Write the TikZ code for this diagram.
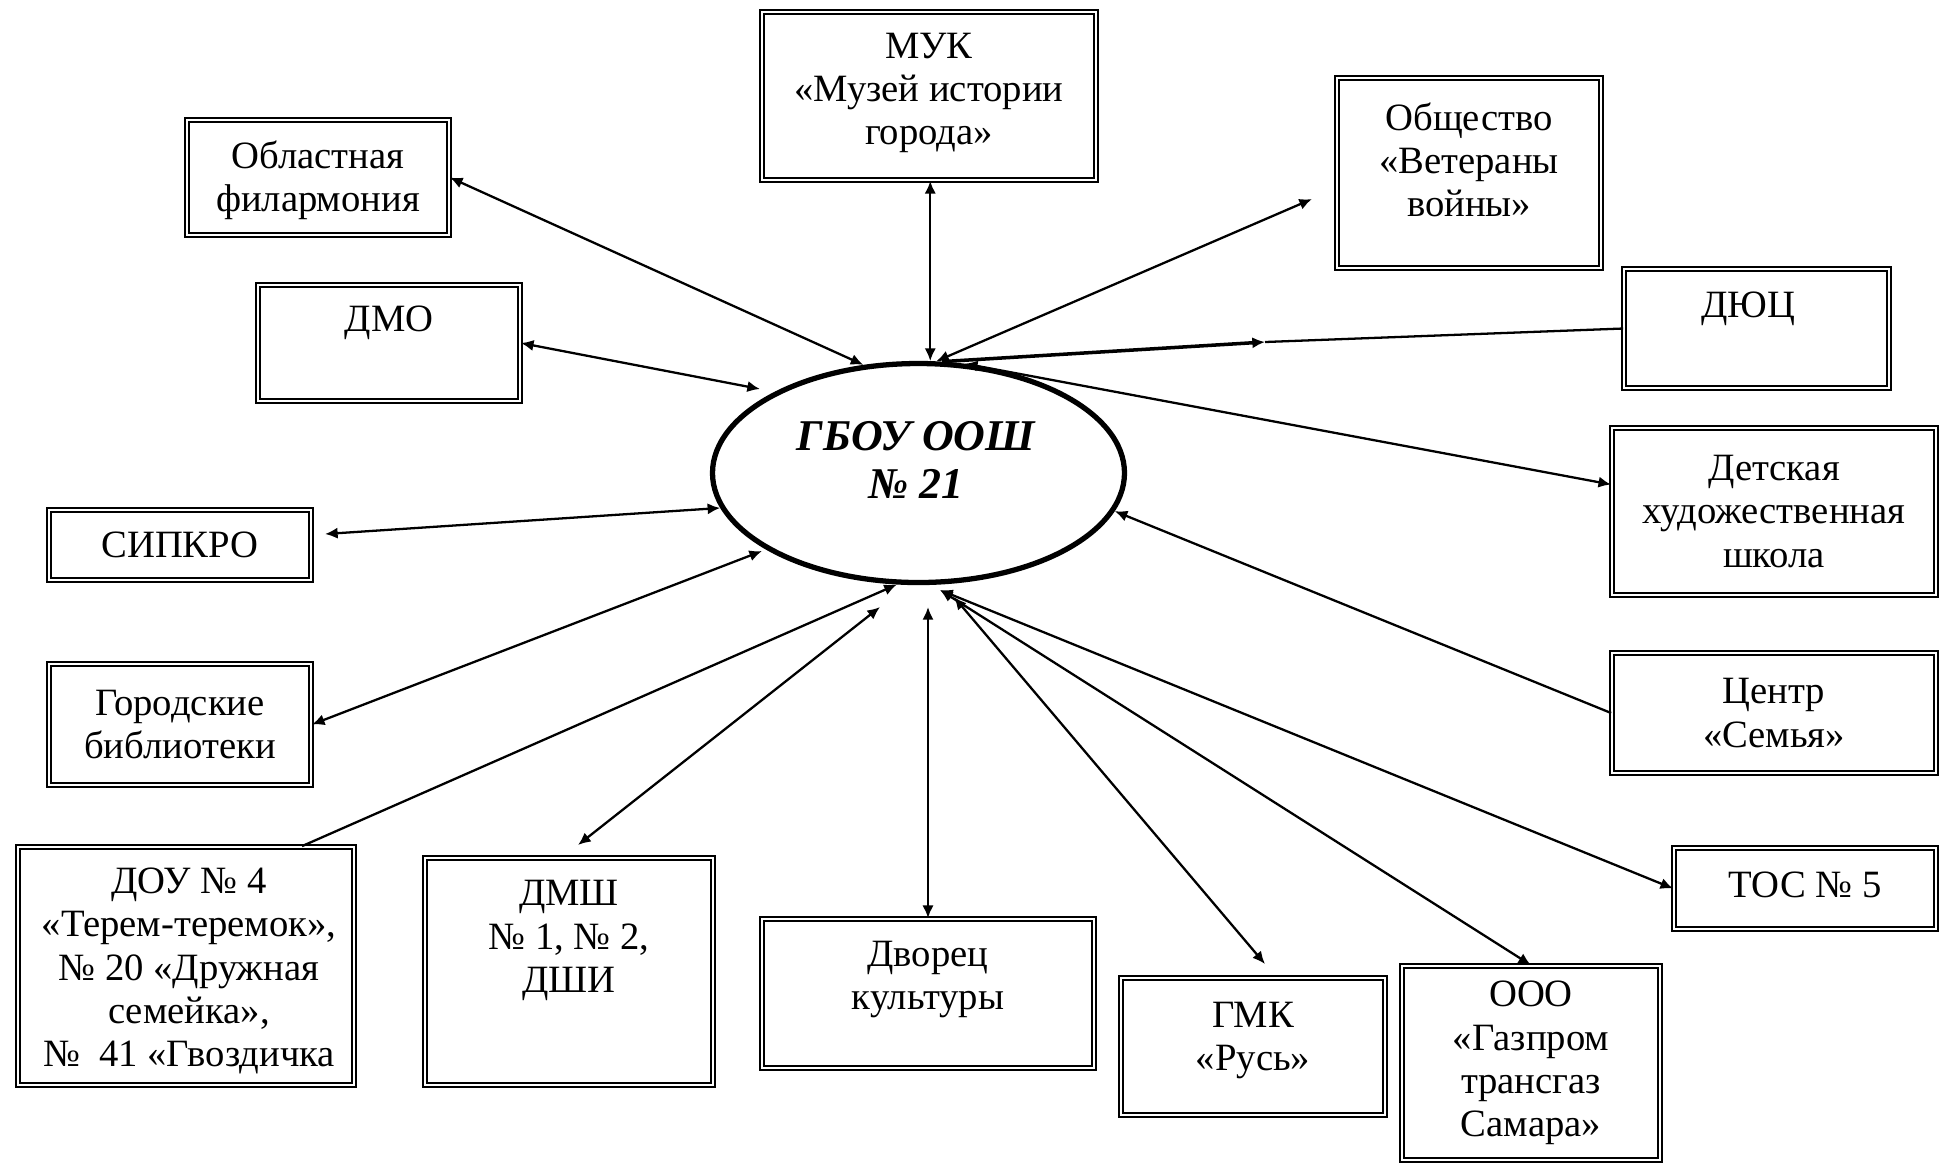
\documentclass[tikz,border=0pt]{standalone}
\usepackage{fontspec}
\setmainfont{Liberation Serif}
\usepackage{tikz}
\usetikzlibrary{arrows.meta, shapes.geometric}

\begin{document}
\begin{tikzpicture}[
		>={Latex[length=3.6pt, width=3.2pt]},
		orgbox/.style = {draw, double, line width=0.5pt, double distance=0.7pt, align=center, inner sep=0pt, font=\fontsize{11}{12.3}\selectfont},
		orgtext/.style = {align=center, inner sep=0pt, font=\fontsize{11}{12.3}\selectfont},
		school/.style = {draw, ellipse, line width=1.5pt, inner sep=0pt},
		link/.style = {line width=0.65pt}
	]
	\useasboundingbox (0,0) rectangle (19.48,-11.65);

	\node [school, minimum width=4.12cm, minimum height=2.19cm] (school) at (9.185,-4.73) {};
	\node [align=center, inner sep=0pt, font=\fontsize{12.5}{13.8}\selectfont\bfseries\itshape] (schoolname) at (9.16,-4.6) {ГБОУ ООШ\\№ 21};

	\node [orgbox, minimum width=2.62cm, minimum height=1.15cm] (filarm) at (3.18,-1.775) {};
	\node [orgtext] (filarmtext) at ([yshift=-0.03cm]filarm.center) {Областная\\филармония};
	\node [orgbox, minimum width=2.62cm, minimum height=1.16cm] (dmo) at (3.89,-3.43) {};
	\node [orgtext] (dmotext) at ([yshift=0.2cm]dmo.center) {ДМО};
	\node [orgbox, minimum width=2.62cm, minimum height=0.70cm] (sipkro) at (1.80,-5.45) {СИПКРО};
	\node [orgbox, minimum width=2.62cm, minimum height=1.21cm] (gorod) at (1.80,-7.245) {Городские\\библиотеки};
	\node [orgbox, minimum width=3.36cm, minimum height=2.38cm] (dou) at (1.86,-9.66) {};
	\node [orgtext] (doutext) at ([xshift=0.03cm, yshift=-0.05cm]dou.center) {ДОУ № 4\\«Терем-теремок»,\\№ 20 «Дружная\\семейка»,\\№\ \ 41 «Гвоздичка};
	\node [orgbox, minimum width=2.88cm, minimum height=2.27cm] (dmsh) at (5.69,-9.715) {};
	\node [orgtext] (dmshtext) at ([yshift=0.31cm]dmsh.center) {ДМШ\\№ 1, № 2,\\ДШИ};
	\node [orgbox, minimum width=3.32cm, minimum height=1.49cm] (dvorec) at (9.28,-9.935) {};
	\node [orgtext] (dvorectext) at ([yshift=0.14cm]dvorec.center) {Дворец\\культуры};
	\node [orgbox, minimum width=2.64cm, minimum height=1.37cm] (gmk) at (12.53,-10.465) {};
	\node [orgtext] (gmktext) at ([yshift=0.06cm]gmk.center) {ГМК\\«Русь»};
	\node [orgbox, minimum width=2.58cm, minimum height=1.94cm] (ooo) at (15.31,-10.63) {ООО\\«Газпром\\трансгаз\\Самара»};
	\node [orgbox, minimum width=2.62cm, minimum height=0.81cm] (tos) at (18.05,-8.885) {};
	\node [orgtext] (tostext) at ([yshift=0.04cm]tos.center) {ТОС № 5};
	\node [orgbox, minimum width=3.24cm, minimum height=1.20cm] (centr) at (17.74,-7.13) {Центр\\«Семья»};
	\node [orgbox, minimum width=3.24cm, minimum height=1.67cm] (detsk) at (17.74,-5.115) {Детская\\художественная\\школа};
	\node [orgbox, minimum width=2.65cm, minimum height=1.19cm] (dyuc) at (17.565,-3.285) {};
	\node [orgtext] (dyuctext) at ([xshift=-0.08cm, yshift=0.2cm]dyuc.center) {ДЮЦ};
	\node [orgbox, minimum width=2.64cm, minimum height=1.90cm] (obsh) at (14.69,-1.73) {};
	\node [orgtext] (obshtext) at ([yshift=0.13cm]obsh.center) {Общество\\«Ветераны\\войны»};
	\node [orgbox, minimum width=3.34cm, minimum height=1.68cm] (muk) at (9.29,-0.96) {};
	\node [orgtext] (muktext) at ([yshift=0.03cm]muk.center) {МУК\\«Музей истории\\города»};

	\coordinate (dmoin) at (7.60,-3.89);
	\coordinate (sipkroout) at (3.25,-5.34);
	\coordinate (gorodin) at (7.62,-5.51);
	\coordinate (dmshout) at (5.78,-8.45);
	\coordinate (dmshin) at (8.80,-6.07);
	\coordinate (dvorecin) at (9.28,-6.07);
	\coordinate (gmkin) at (9.54,-5.97);
	\coordinate (gmkout) at (12.65,-9.64);
	\coordinate (hub) at (9.40,-5.90);
	\coordinate (dyucmid) at (12.65,-3.42);
	\coordinate (obshout) at (13.12,-1.99);

	\begin{scope}[link, <->]
		\draw (filarm.east) -- (school.117.2);
		\draw (dmo.east) -- (dmoin);
		\draw (sipkroout) -- (school.190.2);
		\draw (gorod.east) -- (gorodin);
		\draw (dmshout) -- (dmshin);
		\draw (dvorecin |- dvorec.north) -- (dvorecin);
		\draw (gmkout) -- (gmkin);
		\draw (ooo.north) -- (hub);
		\draw (tos.west) -- (hub);
		\draw (school.84.5 |- muk.south) -- (school.84.5);
		\draw (school.81.5) -- (obshout);
		\draw (school.67.4) -- ([yshift=0.27cm]detsk.west);
	\end{scope}

	\begin{scope}[link, ->]
		\draw ([xshift=1.16cm]dou.north) -- (school.259.1);
		\draw (centr.west) -- (school.349.7);
		\draw [line width=1pt] (school.78.9) -- (dyucmid);
	\end{scope}
	\draw [link] (dyucmid) -- (dyuc.west);
\end{tikzpicture}
\end{document}
